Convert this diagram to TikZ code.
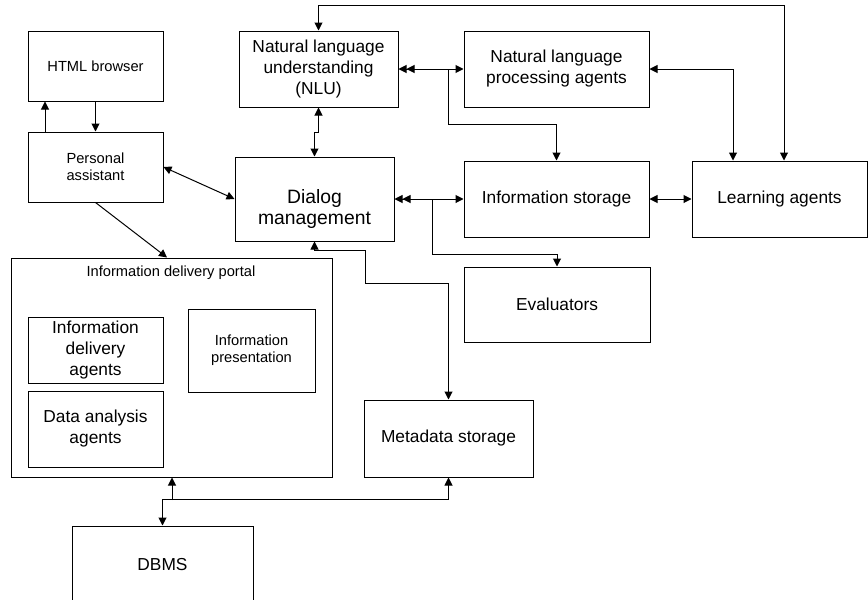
\documentclass[tikz,border=0pt]{standalone}
\usepackage{fontspec}
\setmainfont{Liberation Sans}
\usetikzlibrary{arrows.meta}

\tikzset{
	box/.style={draw, line width=0.75pt, inner sep=0pt, align=center, font=\fontsize{13}{15.75}\selectfont},
	sbox/.style={box, font=\fontsize{11}{12.75}\selectfont},
	wh/.style 2 args={minimum width=#1*0.75pt, minimum height=#2*0.75pt},
	dlg/.style={inner sep=0pt, align=center, font=\fontsize{14.5}{16}\selectfont},
	stxt/.style={inner sep=0pt, font=\fontsize{11}{12.75}\selectfont},
	arr/.style={line width=0.75pt, -{Triangle[length=6pt,width=6pt]}},
	biarr/.style={line width=0.75pt, {Triangle[length=6pt,width=6pt]}-{Triangle[length=6pt,width=6pt]}},
	dbiarr/.style={line width=0.75pt, {Triangle[length=6pt,width=6pt]Triangle[length=6pt,width=6pt]}-{Triangle[length=6pt,width=6pt]}}
}

\begin{document}
\begin{tikzpicture}[x=0.75pt,y=0.75pt,yscale=-1,xscale=1]
	\useasboundingbox (0,0) rectangle (868,600);

	\draw (95.5,66) node [sbox, wh={135}{70}] (html) {HTML browser};
	\draw (95.5,167) node [sbox, wh={135}{70}] (pa) {Personal\\assistant};
	\draw (318.5,69) node [box, wh={159}{76}] (nlu) {Natural language\\understanding\\(NLU)};
	\draw (556.5,69) node [box, wh={185}{76}] (nlp) {Natural language\\processing agents};
	\draw (314.5,199) node [box, wh={159}{84}] (dm) {};
	\draw (314.5,209) node [dlg] (dmtext) {Dialog\\management};
	\draw (556.5,199) node [box, wh={185}{76}] (info) {Information storage};
	\draw (779.5,199) node [box, wh={175}{76}] (learn) {Learning agents};
	\draw (557,304.5) node [box, wh={186}{75}] (eval) {Evaluators};
	\draw (448.5,438.5) node [box, wh={169}{77}] (meta) {Metadata storage};
	\draw (171.5,367.5) node [box, wh={321}{219}] (portal) {};
	\draw (171,273) node [stxt] (portaltext) {Information delivery portal};
	\draw (95.5,350) node [box, wh={135}{66}] (ida) {Information\\delivery\\agents};
	\draw (95.5,429) node [box, wh={135}{76}] (daa) {Data analysis\\agents};
	\draw (251.5,350.5) node [sbox, wh={127}{83}] (ip) {Information\\presentation};
	\draw (162.5,565) node [box, wh={181}{78}] (dbms) {DBMS};

	\draw [arr] (45,0 |- pa.north) -- (45,0 |- html.south);
	\draw [arr] (html.south) -- (pa.north);
	\draw [biarr] (pa.east) -- (dm.west);
	\draw [arr] (pa.south) -- (167,0 |- portal.north);
	\draw [biarr] (nlu.south) -- ++(0,25) -| (dm.north);
	\draw [biarr] (nlu.north) -- ++(0,-25) -| (784,0 |- learn.north);
	\draw [dbiarr] (nlu.east) -- (nlp.west);
	\coordinate (j1) at (448,69);
	\draw [arr] (j1) -- ++(0,55) -| (info.north);
	\draw [biarr] (nlp.east) -| (733,0 |- learn.north);
	\draw [dbiarr] (dm.east) -- (info.west);
	\coordinate (j2) at (432,199);
	\draw [arr] (j2) -- ++(0,55) -| (eval.north);
	\draw [biarr] (info.east) -- (learn.west);
	\draw [biarr] (dm.south) -- ++(0,9) -| (365,283) -| (meta.north);
	\draw [biarr] (dbms.north) -- ++(0,-26) -| (meta.south);
	\coordinate (j3) at (172,500);
	\draw [arr] (j3) -- (172,0 |- portal.south);

\end{tikzpicture}
\end{document}
